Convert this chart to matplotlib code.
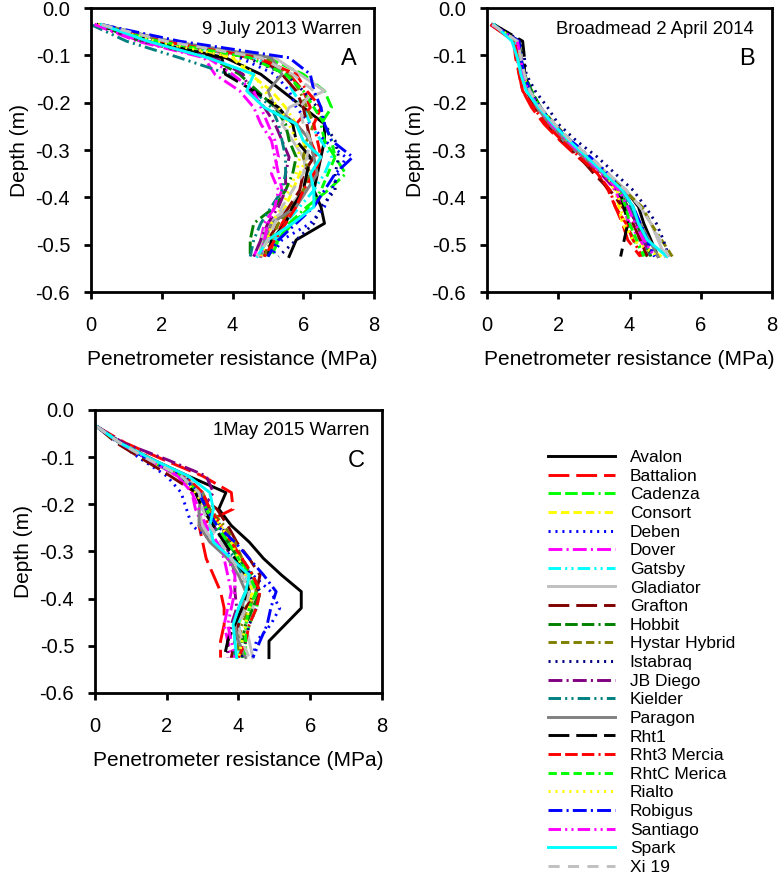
import numpy as np
import pandas as pd
import matplotlib
matplotlib.use('Agg')
import matplotlib.pyplot as plt
from matplotlib.ticker import FormatStrFormatter

plt.rcParams['font.family'] = ['Liberation Sans', 'DejaVu Sans']
plt.rcParams['axes.unicode_minus'] = False
plt.rcParams['lines.scale_dashes'] = False

# --------------
# data: penetrometer resistance (MPa) at each depth, one row per cultivar

depth = [-0.035, -0.07, -0.105, -0.14, -0.175, -0.21, -0.245, -0.28,
         -0.315, -0.35, -0.385, -0.42, -0.455, -0.49, -0.525]

cultivars = ['Avalon', 'Battalion', 'Cadenza', 'Consort', 'Deben', 'Dover',
             'Gatsby', 'Gladiator', 'Grafton', 'Hobbit', 'Hystar Hybrid',
             'Istabraq', 'JB Diego', 'Kielder', 'Paragon', 'Rht1',
             'Rht3 Mercia', 'RhtC Merica', 'Rialto', 'Robigus', 'Santiago',
             'Spark', 'Xi 19']

warren_2013 = [
    [0.2, 1.6, 3.8, 4.8, 5.4, 6.0, 6.6, 6.6, 6.5, 6.4, 6.3, 6.5, 6.6, 5.8, 5.6],
    [0.2, 1.9, 4.5, 5.6, 6.0, 6.2, 5.8, 6.2, 6.4, 6.3, 6.0, 5.7, 5.4, 5.2, 5.0],
    [0.3, 2.2, 5.0, 6.0, 6.6, 6.8, 6.5, 6.6, 6.9, 7.2, 6.7, 6.1, 5.6, 5.3, 5.1],
    [0.2, 1.7, 4.0, 4.5, 5.1, 5.5, 5.8, 6.0, 6.1, 5.9, 5.7, 5.5, 5.2, 4.9, 4.7],
    [0.2, 1.8, 4.2, 5.2, 5.6, 5.8, 6.2, 6.6, 7.2, 7.0, 6.8, 6.6, 6.2, 5.4, 5.1],
    [0.1, 1.3, 3.2, 3.5, 4.2, 4.6, 4.8, 5.1, 5.2, 5.3, 5.4, 5.2, 4.9, 4.8, 4.6],
    [0.3, 1.9, 4.6, 5.5, 5.7, 6.0, 6.2, 6.5, 6.8, 6.6, 6.3, 5.9, 5.5, 5.2, 4.9],
    [0.3, 2.3, 5.2, 5.9, 6.6, 5.6, 5.4, 5.7, 6.0, 6.1, 6.0, 5.6, 5.0, 4.8, 4.8],
    [0.2, 2.0, 4.8, 5.4, 5.8, 6.0, 6.1, 6.2, 6.3, 6.0, 5.9, 5.6, 5.3, 5.0, 4.9],
    [0.2, 1.4, 3.4, 4.2, 4.7, 5.2, 5.5, 5.6, 5.8, 5.7, 5.5, 5.2, 4.6, 4.5, 4.5],
    [0.3, 2.1, 4.9, 5.6, 5.9, 6.1, 6.3, 6.1, 6.0, 6.2, 6.0, 5.7, 5.3, 5.1, 4.9],
    [0.2, 1.9, 4.4, 5.5, 6.0, 6.4, 6.6, 6.9, 7.0, 6.9, 6.9, 6.5, 6.3, 5.8, 5.3],
    [0.1, 1.5, 3.5, 4.3, 4.5, 4.9, 5.2, 5.4, 5.6, 5.5, 5.5, 5.3, 5.0, 4.8, 4.6],
    [0.0, 1.0, 2.5, 3.9, 4.6, 5.1, 5.3, 5.4, 5.5, 5.5, 5.4, 5.1, 4.8, 4.6, 4.5],
    [0.3, 2.2, 5.1, 5.4, 5.0, 5.2, 5.8, 6.2, 6.3, 6.4, 6.1, 5.8, 5.1, 4.9, 4.8],
    [0.2, 1.7, 3.7, 3.8, 4.6, 5.3, 5.7, 5.8, 6.2, 6.1, 6.0, 5.7, 5.5, 5.1, 5.0],
    [0.2, 2.0, 4.7, 5.8, 6.1, 6.5, 6.3, 6.4, 6.5, 6.3, 6.0, 5.8, 5.5, 5.2, 4.9],
    [0.2, 1.9, 4.5, 5.5, 6.0, 6.3, 6.6, 6.8, 6.9, 6.7, 6.5, 6.2, 5.7, 5.3, 5.0],
    [0.2, 1.8, 4.1, 4.6, 4.9, 5.3, 5.6, 5.8, 5.9, 5.8, 5.6, 5.4, 5.1, 5.0, 4.8],
    [0.3, 2.5, 5.6, 6.2, 6.3, 6.5, 6.6, 6.8, 7.4, 6.9, 6.6, 6.3, 5.8, 5.3, 5.0],
    [0.1, 1.4, 3.3, 4.0, 4.6, 4.8, 5.0, 5.2, 5.3, 5.1, 5.3, 5.2, 5.0, 4.9, 4.8],
    [0.3, 1.6, 3.3, 4.6, 4.4, 4.9, 5.8, 6.0, 6.5, 6.2, 6.3, 6.3, 5.7, 5.0, 4.7],
    [0.3, 2.1, 4.8, 5.7, 6.3, 5.9, 6.0, 6.2, 6.1, 6.0, 5.7, 5.4, 5.2, 5.0, 4.7],
]

broadmead_2014 = [
    [0.15, 0.9, 0.95, 1.0, 1.15, 1.45, 1.8, 2.3, 2.8, 3.35, 3.9, 4.25, 4.4, 4.6, 4.8],
    [0.1, 0.75, 0.8, 0.9, 1.0, 1.25, 1.6, 2.05, 2.55, 3.1, 3.4, 3.6, 3.8, 3.95, 4.3],
    [0.15, 0.85, 0.95, 1.05, 1.25, 1.5, 1.85, 2.3, 2.8, 3.3, 3.65, 3.9, 3.95, 4.1, 4.5],
    [0.15, 0.85, 0.9, 1.0, 1.2, 1.45, 1.8, 2.25, 2.75, 3.25, 3.6, 3.7, 3.8, 4.1, 4.9],
    [0.15, 0.9, 0.95, 1.05, 1.2, 1.5, 1.85, 2.3, 2.85, 3.35, 3.8, 4.05, 4.2, 4.4, 4.7],
    [0.1, 0.85, 0.95, 1.0, 1.15, 1.45, 1.8, 2.2, 2.7, 3.2, 3.6, 3.8, 4.0, 4.3, 4.6],
    [0.15, 0.8, 0.9, 1.0, 1.2, 1.5, 1.85, 2.3, 2.8, 3.3, 3.75, 4.0, 4.2, 4.4, 4.6],
    [0.15, 0.85, 0.95, 1.0, 1.15, 1.45, 1.8, 2.3, 2.85, 3.4, 3.9, 4.3, 4.6, 4.8, 5.0],
    [0.15, 0.85, 0.9, 1.0, 1.1, 1.35, 1.7, 2.1, 2.6, 3.0, 3.45, 3.8, 4.1, 4.3, 4.5],
    [0.15, 0.9, 0.95, 1.05, 1.25, 1.5, 1.85, 2.3, 2.8, 3.3, 3.7, 3.95, 4.2, 4.4, 4.6],
    [0.15, 0.85, 0.95, 1.05, 1.2, 1.5, 1.9, 2.35, 2.85, 3.35, 3.85, 4.35, 4.6, 4.9, 5.2],
    [0.2, 0.95, 1.05, 1.1, 1.35, 1.7, 2.0, 2.5, 3.1, 3.6, 4.1, 4.45, 4.75, 4.95, 5.1],
    [0.15, 0.85, 0.95, 1.0, 1.15, 1.45, 1.75, 2.2, 2.7, 3.2, 3.65, 3.95, 4.2, 4.4, 4.6],
    [0.15, 0.85, 0.95, 1.05, 1.2, 1.45, 1.8, 2.25, 2.75, 3.25, 3.7, 4.0, 4.2, 4.4, 4.6],
    [0.15, 0.85, 0.9, 1.0, 1.15, 1.4, 1.75, 2.15, 2.7, 3.25, 3.75, 4.1, 4.3, 4.55, 4.8],
    [0.2, 1.0, 1.05, 1.05, 1.2, 1.5, 1.85, 2.3, 2.8, 3.3, 3.7, 3.85, 3.95, 3.85, 3.75],
    [0.1, 0.8, 0.85, 0.9, 1.0, 1.3, 1.65, 2.1, 2.6, 3.1, 3.45, 3.6, 3.9, 4.1, 4.35],
    [0.15, 0.85, 0.95, 1.0, 1.2, 1.5, 1.85, 2.3, 2.8, 3.3, 3.7, 3.9, 4.0, 4.2, 4.4],
    [0.15, 0.85, 0.95, 1.0, 1.2, 1.5, 1.85, 2.3, 2.8, 3.3, 3.65, 3.75, 3.85, 4.1, 4.8],
    [0.15, 0.9, 0.95, 1.05, 1.2, 1.5, 1.85, 2.35, 2.9, 3.4, 3.8, 4.1, 4.3, 4.5, 4.7],
    [0.15, 0.85, 0.95, 1.0, 1.15, 1.45, 1.8, 2.25, 2.75, 3.25, 3.7, 3.95, 4.15, 4.4, 4.7],
    [0.2, 0.7, 0.85, 0.95, 1.1, 1.45, 1.85, 2.3, 2.8, 3.3, 3.8, 4.1, 4.25, 4.5, 5.05],
    [0.15, 0.85, 0.95, 1.05, 1.2, 1.5, 1.9, 2.35, 2.9, 3.4, 3.9, 4.3, 4.6, 4.85, 5.1],
]

warren_2015 = [
    [0.05, 0.75, 1.6, 2.6, 3.65, 3.45, 3.8, 4.3, 4.7, 5.2, 5.75, 5.75, 5.3, 4.85, 4.85],
    [0.05, 0.85, 1.9, 3.0, 3.8, 3.85, 2.9, 3.0, 3.1, 3.3, 3.5, 3.6, 3.6, 3.5, 3.5],
    [0.05, 0.7, 1.5, 2.3, 2.9, 3.2, 3.4, 3.8, 4.0, 4.3, 4.6, 4.5, 4.3, 4.2, 4.1],
    [0.05, 0.7, 1.5, 2.3, 2.8, 3.1, 3.5, 3.8, 4.1, 4.3, 4.4, 4.2, 4.0, 4.1, 4.2],
    [0.05, 0.65, 1.3, 2.0, 2.4, 2.55, 2.7, 3.3, 3.9, 4.4, 4.9, 5.15, 4.9, 4.5, 4.4],
    [0.05, 0.7, 1.5, 2.3, 2.7, 2.8, 3.0, 3.4, 3.6, 3.7, 3.8, 3.7, 3.6, 3.7, 3.8],
    [0.05, 0.7, 1.5, 2.4, 2.9, 3.2, 3.3, 3.7, 4.0, 4.2, 4.3, 4.1, 4.0, 4.1, 4.0],
    [0.05, 0.75, 1.6, 2.5, 3.0, 2.9, 3.0, 3.3, 3.7, 4.2, 4.5, 4.4, 4.2, 4.3, 4.4],
    [0.05, 0.6, 1.35, 2.1, 2.8, 3.4, 3.7, 3.95, 4.3, 4.6, 4.5, 4.2, 4.0, 3.9, 3.8],
    [0.05, 0.7, 1.5, 2.4, 2.9, 3.1, 3.4, 3.7, 4.0, 4.4, 4.6, 4.4, 4.2, 4.1, 4.1],
    [0.05, 0.7, 1.6, 2.5, 3.0, 3.2, 3.6, 3.9, 4.1, 4.4, 4.5, 4.3, 4.1, 4.0, 4.0],
    [0.05, 0.75, 1.6, 2.5, 2.9, 3.2, 3.5, 3.8, 4.1, 4.3, 4.6, 4.5, 4.3, 4.2, 4.1],
    [0.05, 0.8, 2.0, 3.1, 3.3, 3.0, 3.3, 3.6, 3.8, 3.9, 3.9, 3.95, 3.8, 3.7, 3.7],
    [0.05, 0.7, 1.5, 2.4, 2.9, 3.1, 3.3, 3.6, 3.9, 4.1, 4.2, 4.0, 3.9, 3.9, 3.9],
    [0.05, 0.7, 1.5, 2.4, 3.0, 2.9, 2.9, 3.2, 3.7, 4.0, 4.2, 4.1, 3.9, 4.0, 4.2],
    [0.05, 0.7, 1.5, 2.4, 2.8, 3.0, 3.3, 3.6, 3.9, 4.2, 4.3, 4.1, 3.9, 3.7, 3.6],
    [0.05, 0.7, 1.6, 2.5, 3.0, 3.2, 3.5, 3.8, 4.1, 4.4, 4.6, 4.5, 4.3, 4.2, 4.0],
    [0.05, 0.7, 1.5, 2.4, 2.9, 3.1, 3.4, 3.7, 4.0, 4.3, 4.5, 4.3, 4.2, 4.2, 4.2],
    [0.05, 0.7, 1.5, 2.4, 2.8, 3.1, 3.5, 3.8, 4.0, 4.2, 4.4, 4.3, 4.2, 4.1, 4.0],
    [0.05, 0.7, 1.5, 2.4, 2.9, 3.1, 3.4, 3.9, 4.3, 4.7, 5.05, 4.9, 4.8, 4.6, 4.4],
    [0.05, 0.7, 1.5, 2.3, 2.7, 2.9, 3.1, 3.4, 3.7, 3.9, 3.9, 3.8, 3.7, 3.8, 3.9],
    [0.05, 0.7, 1.6, 2.6, 3.2, 3.3, 3.2, 3.3, 3.8, 4.3, 4.2, 4.0, 3.85, 3.9, 3.95],
    [0.05, 0.7, 1.5, 2.4, 2.9, 3.0, 3.2, 3.5, 3.8, 4.1, 4.3, 4.2, 4.0, 4.1, 4.3],
]

# line styles (SigmaPlot-like)
solid = '-'
long_dash = (0, (15, 5))
short_dash = (0, (8, 6))
dash3_dot = (0, (9, 3, 9, 3, 9, 3, 1.5, 3))
dash4_dot = (0, (6, 3, 6, 3, 6, 3, 6, 3, 1.5, 3))
dotted = (0, (1.5, 3.5))
dash_dot = (0, (10, 3, 1.5, 3))
dash_dot_dot = (0, (9, 3, 1.5, 3, 1.5, 3))

colors = ['black', '#FF0000', '#00FF00', '#FFFF00', '#0000FF', '#FF00FF',
          '#00FFFF', '#C0C0C0', '#800000', '#008000', '#808000', '#000080',
          '#800080', '#008080', '#808080', 'black', '#FF0000', '#00FF00',
          '#FFFF00', '#0000FF', '#FF00FF', '#00FFFF', '#C0C0C0']
styles = [solid, long_dash, dash3_dot, dash4_dot, dotted, dash_dot,
          dash_dot_dot, solid, long_dash, dash3_dot, dash4_dot, dotted,
          dash_dot, dash_dot_dot, solid, long_dash, dash3_dot, dash4_dot,
          dotted, dash_dot, dash_dot_dot, solid, short_dash]

#Code starts here

fig = plt.figure(figsize=(7.8, 8.74), dpi=100)
ax_a = fig.add_axes([0.1167, 0.6659, 0.3628, 0.3249])
ax_b = fig.add_axes([0.6244, 0.6659, 0.3654, 0.3249])
ax_c = fig.add_axes([0.1218, 0.2071, 0.3679, 0.3238])

panels = [
    (ax_a, warren_2013, '9 July 2013 Warren', 'A', 0.955),
    (ax_b, broadmead_2014, 'Broadmead 2 April 2014', 'B', 0.937),
    (ax_c, warren_2015, '1May 2015 Warren', 'C', 0.955),
]

for ax, values, site, letter, xpos in panels:
    df = pd.DataFrame(np.array(values).T, columns=cultivars, index=depth)
    for i, name in enumerate(cultivars):
        ax.plot(df[name], df.index, color=colors[i], linestyle=styles[i],
                lw=2.1, label=name)
    ax.set_xlim(0, 8)
    ax.set_ylim(-0.6, 0)
    ax.set_xticks([0, 2, 4, 6, 8])
    ax.set_yticks([0, -0.1, -0.2, -0.3, -0.4, -0.5, -0.6])
    ax.yaxis.set_major_formatter(FormatStrFormatter('%.1f'))
    ax.tick_params(direction='out', length=5, width=2, top=False, right=False)
    ax.tick_params(axis='x', labelsize=14.5, pad=12)
    ax.tick_params(axis='y', labelsize=14.5, pad=10)
    for s in ax.spines.values():
        s.set_linewidth(2)
    ax.set_xlabel('Penetrometer resistance (MPa)', fontsize=15, labelpad=11)
    ax.set_ylabel('Depth (m)', fontsize=15, labelpad=5)
    ax.text(xpos, 0.91, site, transform=ax.transAxes, ha='right',
            va='baseline', fontsize=13.3)
    ax.text(0.94, 0.80, letter, transform=ax.transAxes, ha='right',
            va='baseline', fontsize=17)

handles, labels = ax_a.get_legend_handles_labels()
fig.legend(handles, labels, loc='upper left', bbox_to_anchor=(0.7026, 0.4851),
           frameon=False, fontsize=12.5, handlelength=3.85, handletextpad=0.86,
           labelspacing=0.2, borderaxespad=0, borderpad=0)

plt.savefig('out.png', dpi=100)
